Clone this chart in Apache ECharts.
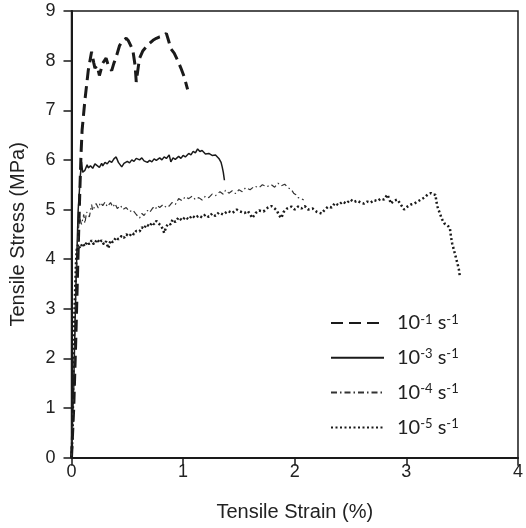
<!DOCTYPE html>
<html><head><meta charset="utf-8">
<script src="https://cdn.jsdelivr.net/npm/echarts@6/dist/echarts.min.js"></script>
<style>html,body{margin:0;padding:0;background:#fff}#c{width:526px;height:528px}</style>
</head><body><div id="c"></div>
<script>
const xTicks = [0, 1, 2, 3, 4];
const yTicks = [0, 1, 2, 3, 4, 5, 6, 7, 8, 9];
const seriesNames = ['10^-1 s^-1', '10^-3 s^-1', '10^-4 s^-1', '10^-5 s^-1'];

const rate1 = [[0,0],[0.02,1],[0.04,2.5],[0.06,4.2],[0.075,5.4],[0.085,6.1],[0.095,6.6],[0.12,7.2],[0.15,7.8],[0.18,8.18],[0.2,7.95],[0.21,7.85],[0.23,7.9],[0.25,7.7],[0.28,7.95],[0.31,8.05],[0.33,7.9],[0.36,7.8],[0.38,7.95],[0.4,8.07],[0.43,8.3],[0.45,8.38],[0.49,8.45],[0.51,8.4],[0.535,8.28],[0.55,8.2],[0.57,7.9],[0.58,7.57],[0.6,7.9],[0.61,8.05],[0.64,8.2],[0.67,8.28],[0.7,8.35],[0.73,8.41],[0.76,8.45],[0.79,8.48],[0.82,8.5],[0.85,8.55],[0.87,8.4],[0.89,8.24],[0.92,8.15],[0.95,8.01],[0.98,7.85],[1.01,7.67],[1.04,7.42]];

const rate3 = [[0,0],[0.02,1.5],[0.04,3.5],[0.06,5.0],[0.08,5.7],[0.09,5.96],[0.1,5.75],[0.12,5.79],[0.14,5.9],[0.15,5.84],[0.17,5.88],[0.19,5.83],[0.21,5.92],[0.22,5.88],[0.25,5.85],[0.27,5.93],[0.28,5.88],[0.3,5.95],[0.32,5.92],[0.34,5.98],[0.36,5.95],[0.38,6.02],[0.4,6.06],[0.42,5.95],[0.43,5.98],[0.45,5.86],[0.47,5.93],[0.48,5.9],[0.5,5.97],[0.52,5.94],[0.54,6.0],[0.56,5.97],[0.58,6.03],[0.61,6.0],[0.63,6.04],[0.65,5.98],[0.68,5.95],[0.7,5.99],[0.72,5.96],[0.74,6.02],[0.76,5.99],[0.79,6.04],[0.81,6.0],[0.83,6.06],[0.85,6.03],[0.875,6.1],[0.89,5.96],[0.91,6.04],[0.93,6.01],[0.96,6.07],[0.98,6.03],[1.0,6.09],[1.02,6.06],[1.05,6.13],[1.07,6.1],[1.09,6.17],[1.11,6.14],[1.13,6.22],[1.15,6.17],[1.17,6.19],[1.2,6.12],[1.23,6.13],[1.26,6.09],[1.29,6.1],[1.32,6.03],[1.34,5.95],[1.35,5.86],[1.36,5.75],[1.37,5.59]];

const rate4 = [[0,0],[0.02,1.5],[0.04,3.5],[0.06,4.5],[0.07,4.85],[0.09,4.7],[0.11,4.9],[0.12,4.72],[0.135,4.95],[0.16,4.85],[0.18,5.1],[0.19,4.98],[0.22,5.12],[0.24,5.03],[0.26,5.14],[0.28,5.08],[0.3,5.15],[0.32,5.06],[0.35,5.14],[0.37,5.05],[0.39,5.12],[0.41,5.02],[0.44,5.08],[0.46,5.0],[0.49,5.04],[0.52,4.96],[0.55,4.99],[0.58,4.9],[0.61,4.83],[0.63,4.92],[0.65,4.88],[0.68,4.98],[0.7,4.94],[0.73,5.04],[0.75,5.0],[0.77,5.08],[0.79,5.04],[0.82,5.1],[0.85,5.04],[0.875,5.07],[0.9,5.14],[0.93,5.1],[0.96,5.22],[0.99,5.18],[1.02,5.26],[1.05,5.22],[1.08,5.27],[1.11,5.2],[1.14,5.24],[1.17,5.19],[1.2,5.27],[1.23,5.24],[1.26,5.31],[1.29,5.28],[1.33,5.36],[1.36,5.31],[1.38,5.39],[1.41,5.33],[1.44,5.38],[1.47,5.32],[1.5,5.4],[1.53,5.36],[1.56,5.44],[1.6,5.4],[1.64,5.47],[1.68,5.44],[1.71,5.5],[1.75,5.46],[1.79,5.5],[1.82,5.45],[1.85,5.53],[1.88,5.48],[1.91,5.51],[1.94,5.44],[1.97,5.4],[1.99,5.33],[2.01,5.3],[2.03,5.24],[2.06,5.22],[2.08,5.19]];

const rate5 = [[0,0],[0.01,0.5],[0.015,1.5],[0.02,2.5],[0.03,3.2],[0.04,3.9],[0.046,4.18],[0.06,4.3],[0.076,4.22],[0.1,4.32],[0.12,4.26],[0.14,4.35],[0.16,4.3],[0.18,4.38],[0.2,4.3],[0.23,4.4],[0.25,4.33],[0.27,4.38],[0.29,4.3],[0.31,4.36],[0.33,4.22],[0.35,4.38],[0.37,4.34],[0.4,4.44],[0.42,4.4],[0.45,4.47],[0.47,4.43],[0.49,4.5],[0.52,4.46],[0.54,4.53],[0.56,4.5],[0.58,4.57],[0.61,4.56],[0.63,4.64],[0.65,4.61],[0.67,4.7],[0.7,4.66],[0.72,4.74],[0.74,4.7],[0.76,4.77],[0.78,4.72],[0.8,4.68],[0.82,4.6],[0.83,4.53],[0.85,4.66],[0.87,4.72],[0.89,4.7],[0.905,4.8],[0.93,4.75],[0.96,4.84],[0.99,4.78],[1.02,4.85],[1.05,4.8],[1.08,4.88],[1.11,4.83],[1.14,4.88],[1.17,4.84],[1.2,4.9],[1.23,4.85],[1.26,4.92],[1.29,4.87],[1.32,4.94],[1.36,4.9],[1.4,4.97],[1.44,4.93],[1.48,5.0],[1.51,4.96],[1.55,4.93],[1.58,4.97],[1.62,4.83],[1.65,4.93],[1.68,4.98],[1.72,4.96],[1.76,5.04],[1.79,5.07],[1.82,5.02],[1.84,4.98],[1.86,4.88],[1.88,4.83],[1.9,4.95],[1.93,5.02],[1.97,5.06],[2.0,5.0],[2.03,5.06],[2.06,5.02],[2.09,5.07],[2.12,5.0],[2.16,5.02],[2.2,4.95],[2.24,4.92],[2.27,5.0],[2.3,5.06],[2.33,5.04],[2.36,5.13],[2.39,5.09],[2.43,5.16],[2.46,5.12],[2.5,5.2],[2.53,5.15],[2.56,5.18],[2.59,5.14],[2.62,5.12],[2.65,5.16],[2.68,5.14],[2.71,5.19],[2.74,5.17],[2.77,5.22],[2.8,5.2],[2.83,5.3],[2.85,5.2],[2.86,5.12],[2.89,5.18],[2.92,5.2],[2.95,5.1],[2.98,5.0],[3.01,5.06],[3.04,5.1],[3.07,5.12],[3.1,5.16],[3.13,5.2],[3.16,5.24],[3.19,5.3],[3.22,5.33],[3.24,5.3],[3.26,5.3],[3.27,5.15],[3.28,5.05],[3.3,4.92],[3.32,4.8],[3.34,4.72],[3.37,4.68],[3.39,4.62],[3.4,4.45],[3.41,4.32],[3.43,4.15],[3.45,3.98],[3.47,3.8],[3.48,3.64]];

const FONT = 'Liberation Sans';
function fmtName(n) {
  const m = n.match(/^10\^(-\d) s\^(-\d)$/);
  return '{b|10}{s|' + m[1] + '}{b| s}{s|' + m[2] + '}';
}

const chart = echarts.init(document.getElementById('c'), null, {renderer: 'canvas'});
const col = '#1a1a1a';
chart.setOption({
  animation: false,
  backgroundColor: '#fff',
  grid: {left: 71.5, right: 4.3, top: 11, bottom: 70.3, show: true, borderColor: col, borderWidth: 1.5},
  xAxis: {
    type: 'value', min: xTicks[0], max: xTicks[xTicks.length - 1], interval: 1,
    name: 'Tensile Strain (%)', nameLocation: 'middle', nameGap: 45,
    nameTextStyle: {fontFamily: FONT, fontSize: 20, color: '#222'},
    axisLine: {lineStyle: {color: col, width: 2}},
    axisTick: {length: 8, lineStyle: {color: col, width: 1.5}},
    axisLabel: {fontFamily: FONT, fontSize: 18, color: '#222', margin: 5},
    splitLine: {show: false}
  },
  yAxis: {
    type: 'value', min: yTicks[0], max: yTicks[yTicks.length - 1], interval: 1,
    name: 'Tensile Stress (MPa)', nameLocation: 'middle', nameGap: 43,
    nameTextStyle: {fontFamily: FONT, fontSize: 20, color: '#222'},
    axisLine: {lineStyle: {color: col, width: 2}},
    axisTick: {length: 8, lineStyle: {color: col, width: 1.5}},
    axisLabel: {fontFamily: FONT, fontSize: 18, color: '#222', margin: 16},
    splitLine: {show: false}
  },
  legend: {
    orient: 'vertical', left: 325, top: 308, itemWidth: 53, itemHeight: 14, itemGap: 14.8,
    data: seriesNames,
    formatter: fmtName,
    itemStyle: {opacity: 0},
    textStyle: {
      color: col, padding: [0, 0, 0, 8],
      rich: {
        b: {fontFamily: 'Lato', fontSize: 20, color: '#222'},
        s: {fontFamily: 'Lato', fontSize: 13, color: '#222', verticalAlign: 'top'}
      }
    }
  },
  series: [
    {name: seriesNames[0], type: 'line', data: rate1, showSymbol: false, symbol: 'none', itemStyle: {color: col}, lineStyle: {color: col, width: 3, type: [12, 6]}},
    {name: seriesNames[1], type: 'line', data: rate3, showSymbol: false, symbol: 'none', itemStyle: {color: col}, lineStyle: {color: col, width: 1.5}},
    {name: seriesNames[2], type: 'line', data: rate4, showSymbol: false, symbol: 'none', itemStyle: {color: col}, lineStyle: {color: '#333', width: 1.2, type: [6, 3, 1.5, 3]}},
    {name: seriesNames[3], type: 'line', data: rate5, showSymbol: false, symbol: 'none', itemStyle: {color: col}, lineStyle: {color: col, width: 2.5, type: [2, 2.5]}}
  ]
});
</script></body></html>
